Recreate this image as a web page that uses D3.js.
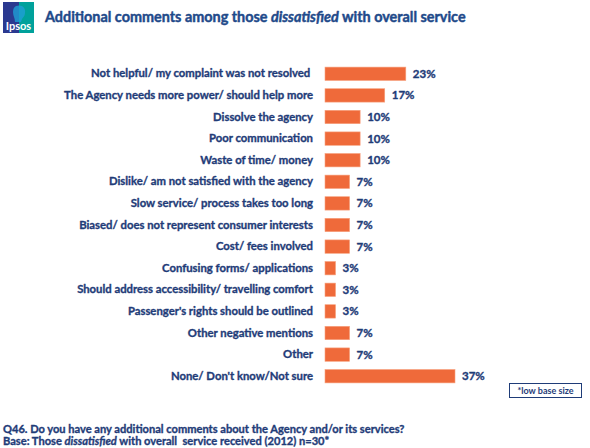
<!DOCTYPE html>
<html><head><meta charset="utf-8">
<script src="https://cdn.jsdelivr.net/npm/d3@7"></script>
<style>
body{margin:0;background:#fff;}
svg{display:block;font-family:Lato,"Open Sans",sans-serif;}
.thick{paint-order:stroke;stroke-width:0.35px;stroke-linejoin:round;}
</style></head>
<body>
<svg id="chart" width="590" height="448"></svg>
<script>
const categories = [
  "Not helpful/ my complaint was not resolved ",
  "The Agency needs more power/ should help more",
  "Dissolve the agency",
  "Poor communication",
  "Waste of time/ money",
  "Dislike/ am not satisfied with the agency",
  "Slow service/ process takes too long",
  "Biased/ does not represent consumer interests",
  "Cost/ fees involved",
  "Confusing forms/ applications",
  "Should address accessibility/ travelling comfort",
  "Passenger's rights should be outlined",
  "Other negative mentions",
  "Other",
  "None/ Don't know/Not sure"
];
const values = [23, 17, 10, 10, 10, 7, 7, 7, 7, 3, 3, 3, 7, 7, 37];
const valueLabels = values.map(v => v + "%");

const svg = d3.select("#chart");
const textColor = "#1f3c78";
const barColor = "#ef6a3a";
const W = "bold";

// logo
const logo = svg.append("g");
logo.append("rect").attr("x",3).attr("y",2).attr("width",16).attr("height",31).attr("fill","#2b3990");
logo.append("rect").attr("x",19).attr("y",2).attr("width",15).attr("height",31).attr("fill","#00a19b");
logo.append("path").attr("d","M16,6 C22,4 26,8 25,13 C25,16 23,17 22,19 L21,22 L15,22 C15,18 13,16 13,12 C13,9 14,7 16,6Z").attr("fill","#1f9fd6").attr("opacity",0.8);
logo.append("text").attr("x",18.5).attr("y",30).attr("text-anchor","middle")
  .attr("fill","#fff").attr("font-size",11).attr("font-weight","bold").text("Ipsos");

// title
const title = svg.append("text").attr("class","thick").attr("x",45).attr("y",21.5).attr("fill","#1f4a8a")
  .attr("stroke","#1f4a8a").style("stroke-width","0.45px")
  .attr("font-size",14.4).attr("font-weight",W);
title.append("tspan").text("Additional comments among those ");
title.append("tspan").attr("font-style","italic").text("dissatisfied");
title.append("tspan").text(" with overall service");

// scales
const x = d3.scaleLinear().domain([0, 37]).range([325, 455]);
const y = d3.scaleBand().domain(categories).range([63, 387]).paddingInner(0.38).paddingOuter(0.19);

svg.append("g").selectAll("rect").data(categories).join("rect")
  .attr("x", x(0))
  .attr("y", d => y(d))
  .attr("width", (d,i) => x(values[i]) - x(0))
  .attr("height", y.bandwidth())
  .attr("fill", barColor)
  .attr("stroke","#f7a27f").attr("stroke-width",0.6);

const yAxis = d3.axisLeft(y).tickSize(0).tickPadding(0);
const ag = svg.append("g").attr("transform", `translate(${313},0)`).call(yAxis);
ag.select(".domain").remove();
ag.selectAll("text").attr("class","thick").attr("fill", textColor).attr("stroke", textColor)
  .attr("font-size", 11.3).attr("font-weight",W)
  .attr("font-family","Lato,'Open Sans',sans-serif").style("white-space","pre");

svg.append("g").selectAll("text").data(categories).join("text")
  .attr("class","thick")
  .attr("x", (d,i) => x(values[i]) + 7)
  .attr("y", d => y(d) + y.bandwidth()/2)
  .attr("dy","0.35em")
  .attr("fill", textColor).attr("stroke", textColor).attr("font-size",11.5).attr("font-weight",W)
  .text((d,i) => valueLabels[i]);

// low base box
svg.append("rect").attr("x",509.5).attr("y",383.5).attr("width",72).attr("height",14)
  .attr("fill","#fff").attr("stroke","#1f3c78").attr("stroke-width",1);
svg.append("text").attr("x",545.5).attr("y",394).attr("text-anchor","middle")
  .attr("fill",textColor).attr("font-size",9).attr("font-weight",W).text("*low base size");

// footer
svg.append("text").attr("class","thick").attr("x",3).attr("y",432.5).attr("fill",textColor).attr("stroke",textColor)
  .attr("font-size",11.1).attr("font-weight",W)
  .text("Q46. Do you have any additional comments about the Agency and/or its services?");
const f2 = svg.append("text").attr("class","thick").attr("x",3).attr("y",444.5).attr("fill",textColor).attr("stroke",textColor)
  .attr("font-size",11.1).attr("font-weight",W).style("white-space","pre");
f2.append("tspan").text("Base: Those ");
f2.append("tspan").attr("font-style","italic").text("dissatisfied");
f2.append("tspan").text(" with overall  service received (2012) n=30*");
</script>
</body></html>
